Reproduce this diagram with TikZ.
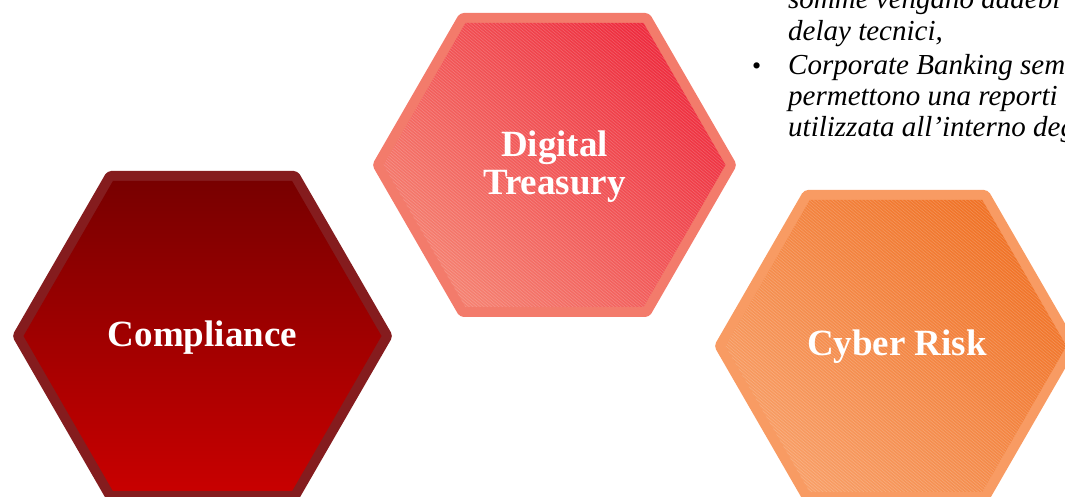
\documentclass[tikz,border=0pt]{standalone}
\usepackage{fontspec}
\setmainfont{Liberation Serif}
\definecolor{comprim}{RGB}{133,28,30}
\definecolor{comptop}{RGB}{120,0,0}
\definecolor{compbot}{RGB}{200,0,0}
\definecolor{treasrim}{RGB}{243,123,107}
\definecolor{treaslight}{RGB}{245,128,112}
\definecolor{treasdark}{RGB}{238,44,62}
\definecolor{cyberrim}{RGB}{248,155,99}
\definecolor{cyberlight}{RGB}{248,158,102}
\definecolor{cyberdark}{RGB}{240,114,38}
\begin{document}
\begin{tikzpicture}[x=1pt,y=1pt,
  hatch/.style={path picture={
    \foreach \k in {-90,...,90}
      \draw[white,opacity=.2,line width=.6] ([xshift=\k*3.7]path picture bounding box.center) ++(-300,250) -- ++(600,-500);
  }},
  hexlabel/.style={text=white,font=\fontsize{37}{38}\selectfont\bfseries,align=center,inner sep=0},
  notetext/.style={font=\fontsize{29}{32}\selectfont\itshape,anchor=base west,inner sep=0}]
  \useasboundingbox (0,0) rectangle (1065,497);
  \clip (0,0) rectangle (1065,497);
  \def\hexa(#1,#2)[#3]#4#5#6{%
    \pgfmathsetmacro{\tw}{#4-0.577*#5}
    \pgfmathsetmacro{\iw}{#4-11.5}
    \pgfmathsetmacro{\ih}{#5-10}
    \pgfmathsetmacro{\itw}{\iw-0.577*\ih}
    \fill[#3,rounded corners=4] (#1-#4,#2) -- (#1-\tw,#2+#5) -- (#1+\tw,#2+#5)
      -- (#1+#4,#2) -- (#1+\tw,#2-#5) -- (#1-\tw,#2-#5) -- cycle;
    \path[#6] (#1-\iw,#2) -- (#1-\itw,#2+\ih) -- (#1+\itw,#2+\ih)
      -- (#1+\iw,#2) -- (#1+\itw,#2-\ih) -- (#1-\itw,#2-\ih) -- cycle;
  }
  \hexa(202.5,161)[comprim]{190.5}{165}{top color=comptop,bottom color=compbot}
  \hexa(554.5,332)[treasrim]{182.5}{152}{left color=treaslight,right color=treasdark,shading angle=135,hatch}
  \hexa(896,151)[cyberrim]{182}{156}{left color=cyberlight,right color=cyberdark,shading angle=135,hatch}

  \node[hexlabel,anchor=base] (compliance) at (202.5,150) {Compliance};
  \node[hexlabel,anchor=base] (treasury) at (554.5,302) {Digital\\Treasury};
  \node[hexlabel,anchor=base] (cyber) at (897,141) {Cyber Risk};

  \node[notetext] (line1) at (788,488) {somme vengano addebi};
  \node[notetext] (line2) at (788,456) {delay tecnici,};
  \node[font=\fontsize{26}{26}\selectfont,anchor=base west,inner sep=0] (bullet) at (752,422) {•};
  \node[notetext] (line3) at (788,422) {Corporate Banking sem};
  \node[notetext] (line4) at (788,391) {permettono una reporti};
  \node[notetext] (line5) at (788,360) {utilizzata all’interno deg};
\end{tikzpicture}
\end{document}
